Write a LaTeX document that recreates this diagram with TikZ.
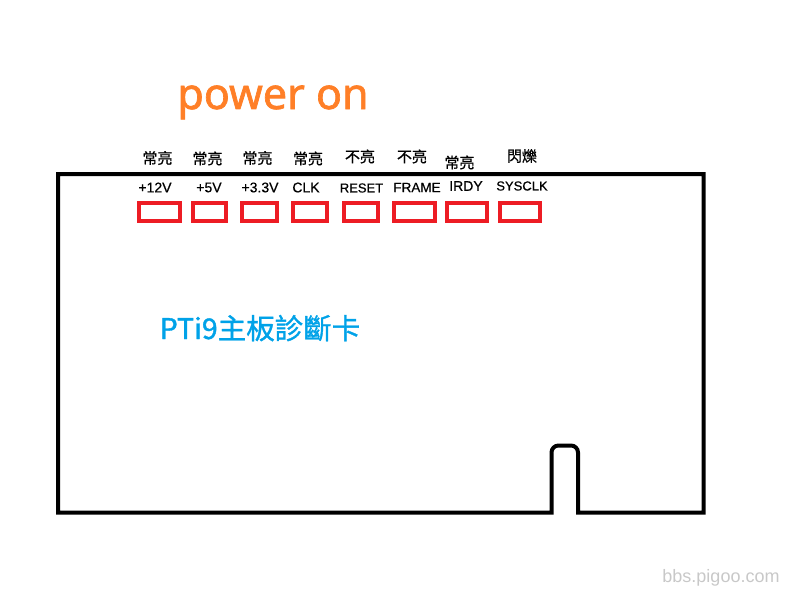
\documentclass[tikz,border=0pt]{standalone}
\usepackage{fontspec}
\setmainfont{Liberation Sans}
\newfontfamily\cjk{Noto Sans CJK TC}
\newfontfamily\cjkbold{Noto Sans CJK TC}[FakeBold=1.2]
\newfontfamily\statefont{Noto Sans CJK TC}[FakeBold=0.8]
\newfontfamily\titlefont{Noto Sans}[FakeBold=1.6]
\newfontfamily\pinfont{Liberation Sans}[FakeBold=0.6]
\usetikzlibrary{positioning}
\definecolor{ledred}{HTML}{ED1C24}
\definecolor{pwrorange}{HTML}{FF7F27}
\definecolor{cardblue}{HTML}{00A2E8}
\definecolor{wmgray}{HTML}{C8C8C8}

\begin{document}
\begin{tikzpicture}[x=1pt, y=-1pt,
    led/.style={draw=ledred, line width=4pt, minimum height=18pt, inner sep=0pt},
    pin/.style={font=\pinfont\fontsize{14}{14}\selectfont, inner sep=0pt},
    state/.style={font=\statefont\fontsize{15}{15}\selectfont, inner sep=0pt}
]
    \useasboundingbox (0,0) rectangle (798,597);
    % card outline with the key notch
    \draw[line width=4pt, line join=miter]
        (551.5,512.5) -- (58,512.5) -- (58,174) -- (703.5,174) -- (703.5,512.5) -- (578,512.5)
        [rounded corners=7pt] -- (578,445.5) -- (551.5,445.5) [sharp corners] -- cycle;
    \node[font=\titlefont\fontsize{43}{43}\selectfont, text=pwrorange, anchor=base, inner sep=0pt] (pwr) at (273,109) {power on};
    % LEDs
    \node[led, minimum width=41pt] (v12)  at (159.5,212) {};
    \node[led, minimum width=33pt] (v5)   at (209.5,212) {};
    \node[led, minimum width=35pt] (v33)  at (259.5,212) {};
    \node[led, minimum width=34pt] (clk)  at (310,212) {};
    \node[led, minimum width=34pt] (rst)  at (361,212) {};
    \node[led, minimum width=41pt] (frm)  at (414.5,212) {};
    \node[led, minimum width=40pt] (irdy) at (467,212) {};
    \node[led, minimum width=40pt] (sclk) at (520,212) {};
    % pin names
    \node[pin] (n12)   at (155,187.5) {+12V};
    \node[pin] (n5)    at (209,187.5) {+5V};
    \node[pin] (n33)   at (260,187.5) {+3.3V};
    \node[pin] (nclk)  at (306,187.5) {CLK};
    \node[pin, font=\pinfont\fontsize{13}{13}\selectfont] (nrst)  at (361.5,188) {RESET};
    \node[pin, font=\pinfont\fontsize{13.5}{13.5}\selectfont] (nfrm)  at (417,187.5) {FRAME};
    \node[pin] (nirdy) at (466,186) {IRDY};
    \node[pin, font=\pinfont\fontsize{13}{13}\selectfont] (nsclk) at (522,186) {SYSCLK};
    % states
    \node[state] (s12)   at (157.5,158) {常亮};
    \node[state] (s5)    at (207.5,158.5) {常亮};
    \node[state] (s33)   at (257.5,158) {常亮};
    \node[state] (sclk)  at (308,158.5) {常亮};
    \node[state] (srst)  at (360,156.5) {不亮};
    \node[state] (sfrm)  at (412,156.5) {不亮};
    \node[state] (sirdy) at (459.5,162.5) {常亮};
    \node[state] (ssclk) at (522,156) {閃爍};
    \node[font=\cjkbold\fontsize{28.5}{28.5}\selectfont, text=cardblue, anchor=base, inner sep=0pt] (card) at (260,339) {PTi9主板診斷卡};
    \node[font=\fontsize{18}{18}\selectfont, text=wmgray, anchor=base, inner sep=0pt] (wm) at (721,582) {bbs.pigoo.com};
\end{tikzpicture}
\end{document}
